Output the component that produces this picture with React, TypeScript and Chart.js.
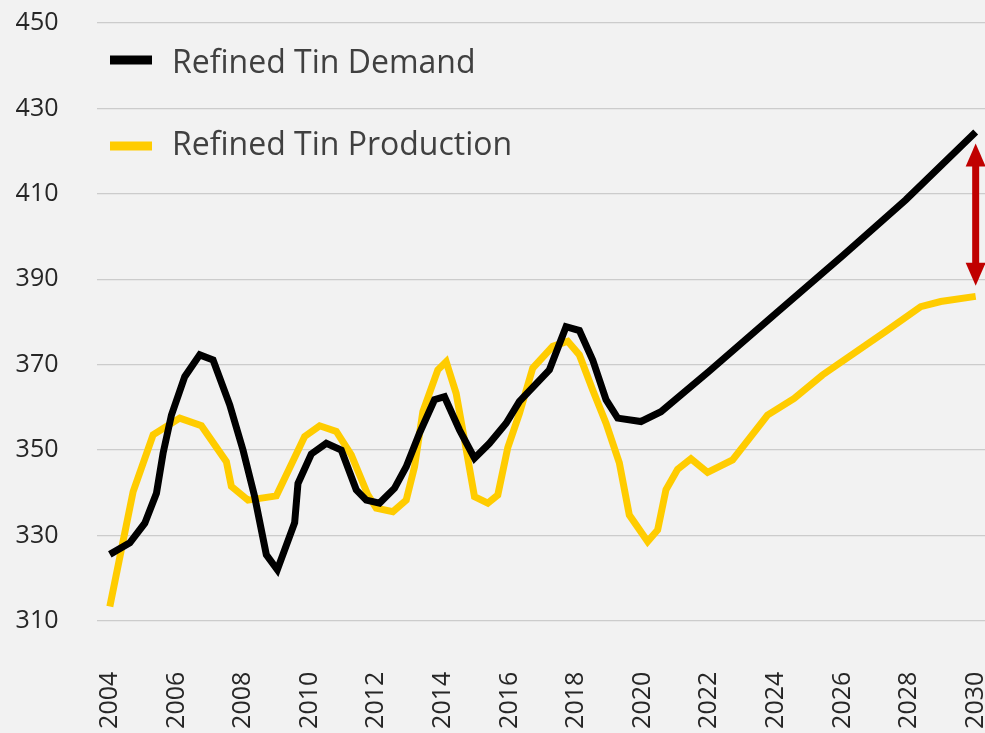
import React, { useEffect, useRef } from "react";
import { Chart, registerables } from "chart.js";

Chart.register(...registerables);

// ---- Data ----
const seriesLabels = ["Refined Tin Demand", "Refined Tin Production"];

const demandYears = [
  2004.0, 2004.6, 2005.05, 2005.4, 2005.6, 2005.85, 2006.25, 2006.7, 2007.1, 2007.6,
  2008.0, 2008.35, 2008.7, 2009.03, 2009.55, 2009.65, 2010.05, 2010.5, 2010.95, 2011.4,
  2011.7, 2012.1, 2012.55, 2012.9, 2013.3, 2013.75, 2014.05, 2014.5, 2014.95, 2015.4,
  2015.9, 2016.3, 2017.2, 2017.7, 2018.1, 2018.5, 2018.9, 2019.25, 2019.95, 2020.55,
  2022.0, 2024.0, 2026.0, 2027.9, 2030.0,
];
const demandValues = [
  325.6, 328.3, 332.9, 339.9, 349.3, 358.2, 367.2, 372.3, 371.1, 360.6,
  350.0, 339.1, 325.5, 322.0, 333.0, 342.2, 349.1, 351.6, 350.0, 340.7,
  338.3, 337.6, 341.1, 346.1, 354.0, 361.8, 362.5, 354.7, 348.1, 351.6,
  356.3, 361.4, 368.8, 378.9, 378.0, 371.1, 361.8, 357.5, 356.7, 359.0,
  368.5, 382.0, 395.5, 408.6, 424.5,
];

const productionYears = [
  2004.0, 2004.7, 2005.3, 2006.1, 2006.75, 2007.5, 2007.65, 2008.15, 2009.0, 2009.85,
  2010.3, 2010.8, 2011.25, 2011.75, 2012.0, 2012.5, 2012.9, 2013.15, 2013.4, 2013.85,
  2014.1, 2014.4, 2014.65, 2014.95, 2015.35, 2015.65, 2015.95, 2016.3, 2016.7, 2017.3,
  2017.75, 2018.1, 2018.5, 2018.9, 2019.3, 2019.6, 2020.15, 2020.45, 2020.7, 2021.05,
  2021.45, 2021.95, 2022.7, 2023.75, 2024.55, 2025.4, 2027.3, 2028.35, 2028.95, 2030.0,
];
const productionValues = [
  313.4, 340.3, 353.6, 357.5, 355.7, 347.3, 341.5, 338.3, 339.3, 353.2,
  355.7, 354.4, 348.9, 339.5, 336.4, 335.6, 338.3, 346.1, 359.0, 368.8,
  370.7, 363.3, 352.4, 339.1, 337.6, 339.5, 350.6, 358.6, 369.2, 374.3,
  375.5, 372.3, 364.1, 356.3, 347.0, 334.8, 328.6, 331.3, 340.7, 345.5,
  348.0, 344.8, 347.7, 358.2, 362.1, 367.6, 377.8, 383.6, 384.8, 386.0,
];

const xTickYears = [2004, 2006, 2008, 2010, 2012, 2014, 2016, 2018, 2020, 2022, 2024, 2026, 2028, 2030];
const yTickValues = [310, 330, 350, 370, 390, 410, 430, 450];

// Gap arrow (year, lower value, upper value)
const gapArrowYear = 2030;
const gapArrowFrom = 388.5;
const gapArrowTo = 421.8;

const FONT = '"Open Sans", "Noto Sans", sans-serif';
const COLORS = ["#000000", "#FFCC00"];

const legendPlugin = {
  id: "insideLegend",
  afterDraw(chart: any) {
    const { ctx } = chart;
    const rows = [
      { lineY: 60, textY: 73 },
      { lineY: 146, textY: 155 },
    ];
    chart.data.datasets.forEach((ds: any, i: number) => {
      const r = rows[i];
      ctx.save();
      ctx.strokeStyle = ds.borderColor;
      ctx.lineWidth = 9;
      ctx.lineCap = "butt";
      ctx.beginPath();
      ctx.moveTo(110, r.lineY);
      ctx.lineTo(152, r.lineY);
      ctx.stroke();
      ctx.fillStyle = "#404040";
      ctx.font = `32px ${FONT}`;
      ctx.textBaseline = "alphabetic";
      ctx.textAlign = "left";
      ctx.fillText(ds.label, 172, r.textY);
      ctx.restore();
    });
  },
};

const arrowPlugin = {
  id: "gapArrow",
  afterDatasetsDraw(chart: any) {
    const { ctx, scales } = chart;
    const x = scales.x.getPixelForValue(gapArrowYear);
    const yTop = scales.y.getPixelForValue(gapArrowTo);
    const yBot = scales.y.getPixelForValue(gapArrowFrom);
    const headLen = 23;
    const headHalf = 10;
    const shaft = 7;
    ctx.save();
    ctx.fillStyle = "#C00000";
    ctx.fillRect(x - shaft / 2, yTop + headLen - 1, shaft, yBot - yTop - 2 * headLen + 2);
    ctx.beginPath();
    ctx.moveTo(x, yTop);
    ctx.lineTo(x + headHalf, yTop + headLen);
    ctx.lineTo(x - headHalf, yTop + headLen);
    ctx.closePath();
    ctx.fill();
    ctx.beginPath();
    ctx.moveTo(x, yBot);
    ctx.lineTo(x + headHalf, yBot - headLen);
    ctx.lineTo(x - headHalf, yBot - headLen);
    ctx.closePath();
    ctx.fill();
    ctx.restore();
  },
};

export default function App() {
  const ref = useRef<HTMLCanvasElement>(null);

  useEffect(() => {
    document.body.style.margin = "0";
    const canvas = ref.current;
    if (!canvas) return;
    const chart = new Chart(canvas, {
      type: "line",
      data: {
        datasets: [
          {
            label: seriesLabels[0],
            data: demandYears.map((x, i) => ({ x, y: demandValues[i] })),
            borderColor: COLORS[0],
            backgroundColor: COLORS[0],
            borderWidth: 7,
            pointRadius: 0,
            tension: 0,
            fill: false,
          },
          {
            label: seriesLabels[1],
            data: productionYears.map((x, i) => ({ x, y: productionValues[i] })),
            borderColor: COLORS[1],
            backgroundColor: COLORS[1],
            borderWidth: 7,
            pointRadius: 0,
            tension: 0,
            fill: false,
          },
        ],
      },
      options: {
        animation: false,
        responsive: false,
        maintainAspectRatio: false,
        layout: { padding: { top: 23, right: 0, left: 0, bottom: 0 } },
        scales: {
          x: {
            type: "linear",
            min: 2003.6,
            max: 2030.28,
            afterBuildTicks: (s: any) => {
              s.ticks = xTickYears.map((v) => ({ value: v }));
            },
            afterFit: (s: any) => {
              s.height = 69.3;
              s.paddingLeft = 0;
              s.paddingRight = 0;
            },
            grid: { display: false, drawTicks: false },
            border: { display: false },
            ticks: {
              autoSkip: false,
              minRotation: 90,
              maxRotation: 90,
              padding: 8,
              color: "#262626",
              font: { family: FONT, size: 25 },
              callback: (v: any) => String(v),
            },
          },
          y: {
            type: "linear",
            min: 300,
            max: 450,
            afterBuildTicks: (s: any) => {
              s.ticks = yTickValues.map((v) => ({ value: v }));
            },
            afterFit: (s: any) => {
              s.width = 96.5;
              s.paddingTop = 0;
              s.paddingBottom = 0;
            },
            grid: { color: "#CCCCCC", lineWidth: 1.3, drawTicks: false },
            border: { display: false },
            ticks: {
              padding: 38,
              color: "#262626",
              font: { family: FONT, size: 25 },
              callback: (v: any) => String(v),
            },
          },
        },
        plugins: {
          legend: { display: false },
          tooltip: { enabled: false },
        },
      },
      plugins: [legendPlugin, arrowPlugin],
    } as any);
    return () => chart.destroy();
  }, []);

  return (
    <div style={{ width: 985, height: 733, overflow: "hidden", background: "#F2F2F2" }}>
      <canvas ref={ref} width={985} height={733} style={{ display: "block" }} />
    </div>
  );
}
